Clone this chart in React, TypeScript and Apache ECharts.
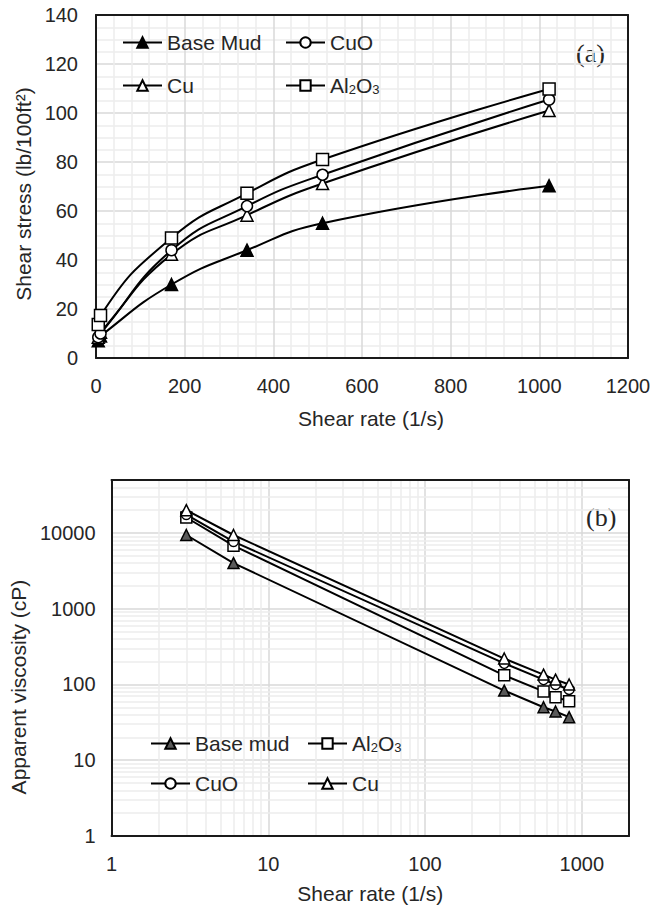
import React, { useEffect, useRef } from "react";
import * as echarts from "echarts";

// ---------- Data: (a) shear stress vs shear rate ----------
const shearRateA = [5.1, 10.2, 170.3, 340.6, 511, 1022];
const stressBaseMud = [7, 9, 30, 44, 55, 70.3];
const stressCuO = [8.5, 10, 44, 62, 74.8, 105.5];
const stressCu = [8.5, 10.5, 42.3, 58.3, 71.2, 101];
const stressAl2O3 = [13.7, 17.3, 49, 67.2, 81, 109.8];

// ---------- Data: (b) apparent viscosity vs shear rate ----------
const shearRateB = [3, 6, 320, 570, 680, 830];
const viscBaseMud = [9400, 4000, 83, 50, 44, 37];
const viscAl2O3 = [16000, 6800, 132, 81, 68, 60];
const viscCuO = [17500, 7700, 190, 116, 100, 86];
const viscCu = [20000, 9400, 220, 135, 116, 100];

// minor log grid values
const logMinorX = [2, 3, 4, 5, 6, 7, 8, 9, 20, 30, 40, 50, 60, 70, 80, 90, 200, 300, 400, 500, 600, 700, 800, 900];
const logMinorY = [2, 3, 4, 5, 6, 7, 8, 9, 20, 30, 40, 50, 60, 70, 80, 90, 200, 300, 400, 500, 600, 700, 800, 900,
  2000, 3000, 4000, 5000, 6000, 7000, 8000, 9000, 20000, 30000, 40000];

const FONT = "'Liberation Sans', Arial, sans-serif";
const TXT = "#262626";
const FRAME = "#1a1a1a";
const MAJOR = "#d9d9d9";
const MINOR = "#ececec";

const pair = (xs: number[], ys: number[]) => xs.map((x, i) => [x, ys[i]]);
const plain = (v: number) => String(Math.round(v));

const legendFmt = (name: string) => (name === "Al2O3" ? "Al{sub|2}O{sub|3}" : name);
const legendText = {
  fontSize: 21,
  color: TXT,
  fontFamily: FONT,
  rich: { sub: { fontSize: 13, color: TXT, fontFamily: FONT, verticalAlign: "bottom" } },
};
const mkLegend = (name: string, left: number, top: number) => ({
  data: [name],
  left,
  top,
  itemWidth: 39,
  itemHeight: 13,
  padding: 5,
  selectedMode: false,
  formatter: legendFmt,
  textStyle: legendText,
});

const frameAxis = (type: string, position: string, min: number, max: number) => ({
  type,
  position,
  min,
  max,
  ...(type === "log" ? { logBase: 10 } : {}),
  axisLine: { show: true, onZero: false, lineStyle: { color: FRAME, width: 2 } },
  axisTick: { show: false },
  axisLabel: { show: false },
  splitLine: { show: false },
});

const mkSeries = (name: string, data: number[][], symbol: string, fill: string, size: number, smooth: boolean) => ({
  name,
  type: "line",
  data,
  smooth,
  symbol,
  symbolSize: size,
  showSymbol: true,
  xAxisIndex: 0,
  yAxisIndex: 0,
  z: 3,
  lineStyle: { color: "#000", width: 2 },
  itemStyle: { color: fill, borderColor: "#000", borderWidth: 1.5 },
  emphasis: { disabled: true },
});

function optionA() {
  return {
    animation: false,
    grid: { left: 96, top: 15, width: 532, height: 343, show: false },
    xAxis: [
      {
        type: "value",
        min: 0,
        max: 1200,
        interval: 200,
        axisLine: { show: true, onZero: false, lineStyle: { color: FRAME, width: 2 } },
        axisTick: { show: false },
        axisLabel: { color: TXT, fontSize: 20, fontFamily: FONT, margin: 18, formatter: plain },
        splitLine: { show: true, lineStyle: { color: MAJOR, width: 1.5 } },
        minorTick: { show: false, splitNumber: 5 },
        minorSplitLine: { show: true, lineStyle: { color: MINOR, width: 1.5 } },
        name: "Shear rate (1/s)",
        nameLocation: "middle",
        nameGap: 50,
        nameTextStyle: { color: TXT, fontSize: 21, fontFamily: FONT, padding: [0, 0, 0, 18] },
      },
      frameAxis("value", "top", 0, 1200),
    ],
    yAxis: [
      {
        type: "value",
        min: 0,
        max: 140,
        interval: 20,
        axisLine: { show: true, onZero: false, lineStyle: { color: FRAME, width: 2 } },
        axisTick: { show: false },
        axisLabel: { color: TXT, fontSize: 20, fontFamily: FONT, margin: 18, formatter: plain },
        splitLine: { show: true, lineStyle: { color: MAJOR, width: 1.5 } },
        minorTick: { show: false, splitNumber: 4 },
        minorSplitLine: { show: true, lineStyle: { color: MINOR, width: 1.5 } },
        name: "Shear stress (lb/100ft²)",
        nameLocation: "middle",
        nameGap: 60,
        nameTextStyle: { color: TXT, fontSize: 21, fontFamily: FONT, padding: [0, 15, 0, 0] },
      },
      frameAxis("value", "right", 0, 140),
    ],
    legend: [
      mkLegend("Base Mud", 117, 27),
      mkLegend("CuO", 280, 27),
      mkLegend("Cu", 117, 70),
      mkLegend("Al2O3", 280, 70),
    ],
    graphic: [
      {
        type: "text",
        left: 576,
        top: 40,
        style: { text: "(a)", fontSize: 26, fontFamily: "'Liberation Serif', 'Times New Roman', serif", fill: TXT },
      },
    ],
    series: [
      mkSeries("Base Mud", pair(shearRateA, stressBaseMud), "triangle", "#000", 12, true),
      mkSeries("Cu", pair(shearRateA, stressCu), "triangle", "#fff", 12, true),
      mkSeries("CuO", pair(shearRateA, stressCuO), "circle", "#fff", 11, true),
      mkSeries("Al2O3", pair(shearRateA, stressAl2O3), "rect", "#fff", 12, true),
    ],
  };
}

function optionB() {
  return {
    animation: false,
    grid: { left: 108, top: 25, width: 521, height: 357, show: false },
    xAxis: [
      {
        type: "log",
        logBase: 10,
        min: 1,
        max: 2000,
        axisLine: { show: true, onZero: false, lineStyle: { color: FRAME, width: 2 } },
        axisTick: { show: false },
        axisLabel: { color: TXT, fontSize: 20, fontFamily: FONT, margin: 18, showMaxLabel: false, formatter: plain },
        splitLine: { show: true, lineStyle: { color: MAJOR, width: 1.5 } },
        name: "Shear rate (1/s)",
        nameLocation: "middle",
        nameGap: 47,
        nameTextStyle: { color: TXT, fontSize: 21, fontFamily: FONT },
      },
      frameAxis("log", "top", 1, 2000),
    ],
    yAxis: [
      {
        type: "log",
        logBase: 10,
        min: 1,
        max: 50000,
        axisLine: { show: true, onZero: false, lineStyle: { color: FRAME, width: 2 } },
        axisTick: { show: false },
        axisLabel: { color: TXT, fontSize: 20, fontFamily: FONT, margin: 16, showMaxLabel: false, formatter: plain },
        splitLine: { show: true, lineStyle: { color: MAJOR, width: 1.5 } },
        name: "Apparent viscosity (cP)",
        nameLocation: "middle",
        nameGap: 76,
        nameTextStyle: { color: TXT, fontSize: 21, fontFamily: FONT, padding: [0, 58, 0, 0] },
      },
      frameAxis("log", "right", 1, 50000),
    ],
    legend: [
      mkLegend("Base mud", 145, 273),
      mkLegend("Al2O3", 302, 273),
      mkLegend("CuO", 145, 313),
      mkLegend("Cu", 302, 313),
    ],
    graphic: [
      {
        type: "text",
        left: 586,
        top: 49,
        style: { text: "(b)", fontSize: 26, fontFamily: "'Liberation Serif', 'Times New Roman', serif", fill: TXT },
      },
    ],
    series: [
      {
        name: "__minorGrid",
        type: "line",
        data: [],
        silent: true,
        z: 0,
        markLine: {
          silent: true,
          animation: false,
          z: 0,
          zlevel: 0,
          symbol: ["none", "none"],
          label: { show: false },
          emphasis: { disabled: true },
          lineStyle: { color: MINOR, width: 1.5, type: "solid" },
          data: [...logMinorX.map((v) => ({ xAxis: v })), ...logMinorY.map((v) => ({ yAxis: v }))],
        },
      },
      mkSeries("Base mud", pair(shearRateB, viscBaseMud), "triangle", "#595959", 11, false),
      mkSeries("Al2O3", pair(shearRateB, viscAl2O3), "rect", "#fff", 11, false),
      mkSeries("CuO", pair(shearRateB, viscCuO), "circle", "#fff", 10, false),
      mkSeries("Cu", pair(shearRateB, viscCu), "triangle", "#fff", 11, false),
    ],
  };
}

function Chart({ top, height, option }: { top: number; height: number; option: any }) {
  const ref = useRef<HTMLDivElement>(null);
  useEffect(() => {
    if (!ref.current) return;
    const chart = echarts.init(ref.current, undefined, { renderer: "svg" });
    chart.setOption(option);
    return () => chart.dispose();
  }, [option]);
  return (
    <div
      ref={ref}
      style={{ position: "absolute", left: 0, top, width: 669, height, background: "#fff" }}
    />
  );
}

const optA = optionA();
const optB = optionB();

export default function App() {
  return (
    <div style={{ position: "absolute", left: 0, top: 0, width: 669, height: 909, background: "#fff" }}>
      <Chart top={0} height={455} option={optA} />
      <Chart top={455} height={454} option={optB} />
    </div>
  );
}
